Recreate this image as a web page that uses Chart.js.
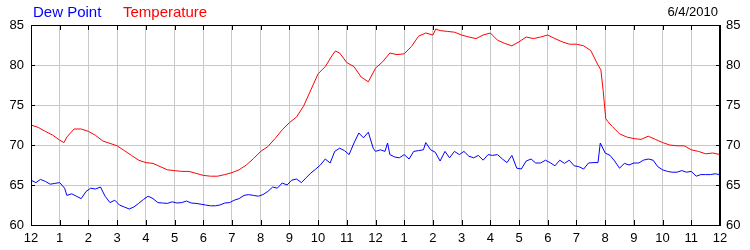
<!DOCTYPE html>
<html>
<head>
<meta charset="utf-8">
<script src="https://cdn.jsdelivr.net/npm/chart.js@4/dist/chart.umd.min.js"></script>
<style>
  html, body { margin: 0; padding: 0; background: #fff; }
  #wrap { position: relative; width: 750px; height: 250px; font-family: "Liberation Sans", Arial, sans-serif; }
  #c { position: absolute; left: 0; top: 0; }
  .lg { position: absolute; top: 2px; font-size: 15px; line-height: 20px; }
  #date { position: absolute; top: 4px; right: 32px; font-size: 13px; line-height: 16px; color: #000; }
</style>
</head>
<body>
<div id="wrap">
  <canvas id="c" width="750" height="250"></canvas>
  <span class="lg" style="left:33px;color:#0000ff">Dew Point</span>
  <span class="lg" style="left:123px;color:#ff0000">Temperature</span>
  <span id="date">6/4/2010</span>
</div>
<script>
// Hour-of-day tick labels (0..24)
const hourLabels = ['12','1','2','3','4','5','6','7','8','9','10','11','12','1','2','3','4','5','6','7','8','9','10','11','12'];

// Temperature (°F)
const tempHours = [0,0.25,0.5,0.75,1,1.15,1.25,1.5,1.75,2,2.25,2.5,2.75,3,3.25,3.5,3.75,4,4.25,4.5,4.75,5,5.25,5.5,5.75,6,6.25,6.5,6.75,7,7.25,7.5,7.75,8,8.25,8.5,8.75,9,9.25,9.5,9.75,10,10.25,10.5,10.6,10.75,11,11.25,11.5,11.75,12,12.25,12.5,12.75,13,13.25,13.5,13.75,14,14.1,14.25,14.5,14.75,15,15.25,15.5,15.75,16,16.25,16.5,16.75,17,17.25,17.5,17.75,18,18.25,18.5,18.75,19,19.25,19.5,19.75,19.85,19.93,20.02,20.1,20.25,20.5,20.75,21,21.25,21.5,21.75,22,22.25,22.5,22.75,23,23.25,23.5,23.75,24];
const tempValues = [72.5,72.2,71.7,71.25,70.6,70.3,71.0,72.0,72.0,71.7,71.2,70.5,70.2,69.9,69.3,68.7,68.1,67.8,67.7,67.3,66.9,66.8,66.7,66.7,66.45,66.2,66.1,66.1,66.3,66.55,66.9,67.5,68.3,69.2,69.8,70.8,71.9,72.8,73.5,74.9,76.9,78.9,79.8,81.25,81.75,81.5,80.3,79.8,78.5,77.9,79.6,80.4,81.5,81.3,81.4,82.3,83.6,84.0,83.75,84.5,84.3,84.2,84.1,83.75,83.5,83.3,83.75,84.0,83.1,82.7,82.4,82.9,83.5,83.3,83.5,83.75,83.3,82.9,82.6,82.6,82.4,81.8,80.0,79.4,76.8,73.3,72.9,72.3,71.4,71.0,70.8,70.7,71.1,70.7,70.3,70.0,69.9,69.9,69.4,69.2,68.9,69.0,68.8];

// Dew point (°F)
const dewHours = [0,0.17,0.33,0.5,0.67,0.83,1,1.17,1.25,1.42,1.58,1.75,1.92,2.08,2.25,2.42,2.58,2.75,2.92,3.08,3.25,3.42,3.58,3.75,3.92,4.08,4.25,4.42,4.58,4.75,4.92,5.08,5.25,5.42,5.58,5.75,5.92,6.08,6.25,6.42,6.58,6.75,6.92,7.08,7.25,7.42,7.58,7.75,7.92,8.08,8.25,8.42,8.58,8.75,8.92,9.08,9.25,9.42,9.58,9.75,9.92,10.08,10.25,10.42,10.58,10.75,10.92,11.08,11.25,11.42,11.58,11.75,11.92,12,12.17,12.33,12.42,12.5,12.67,12.83,13,13.17,13.33,13.5,13.67,13.75,13.92,14.08,14.25,14.42,14.58,14.75,14.92,15.08,15.25,15.42,15.58,15.75,15.92,16.08,16.25,16.42,16.58,16.75,16.92,17.08,17.25,17.42,17.58,17.75,17.92,18.08,18.25,18.42,18.58,18.75,18.92,19.08,19.25,19.42,19.58,19.75,19.83,20,20.17,20.33,20.5,20.67,20.83,21,21.17,21.33,21.5,21.67,21.83,22,22.17,22.33,22.5,22.67,22.83,23,23.17,23.33,23.5,23.67,23.83,24];
const dewValues = [65.6,65.3,65.7,65.45,65.1,65.2,65.3,64.6,63.7,63.9,63.6,63.3,64.2,64.6,64.5,64.75,63.6,62.8,63.1,62.5,62.25,62.0,62.25,62.7,63.2,63.6,63.3,62.8,62.75,62.7,62.9,62.75,62.8,63.0,62.75,62.7,62.6,62.5,62.4,62.4,62.5,62.75,62.8,63.1,63.3,63.7,63.8,63.7,63.6,63.8,64.2,64.75,64.6,65.25,65.0,65.6,65.75,65.3,65.9,66.5,67.0,67.5,68.25,67.75,69.2,69.6,69.3,68.8,70.25,71.5,70.9,71.6,69.6,69.2,69.4,69.2,70.25,68.8,68.5,68.4,68.8,68.25,69.2,69.3,69.4,70.3,69.4,69.1,68.0,69.2,68.4,69.2,68.8,69.2,68.6,68.4,68.7,68.1,68.8,68.7,68.8,68.25,67.8,68.7,67.1,67.0,68.0,68.25,67.75,67.75,68.1,67.8,67.4,68.1,67.7,68.1,67.4,67.3,67.0,67.75,67.8,67.8,70.25,69.0,68.7,68.0,67.1,67.7,67.5,67.75,67.75,68.1,68.25,68.1,67.3,66.9,66.7,66.6,66.6,66.8,66.6,66.7,66.1,66.3,66.3,66.3,66.4,66.3];

const yTicks = [60,65,70,75,80,85];

const toPts = (xs, ys) => xs.map((x, i) => ({ x: x, y: ys[i] }));

// Inner black tick marks on all four edges, placed via the scales
const innerTicks = {
  id: 'innerTicks',
  afterDraw(chart) {
    const { ctx, chartArea: a, scales: { x, y } } = chart;
    ctx.save();
    ctx.strokeStyle = '#000';
    ctx.lineWidth = 1;
    ctx.beginPath();
    for (let h = 1; h < hourLabels.length - 1; h++) {
      const px = Math.round(x.getPixelForValue(h)) + 0.5;
      ctx.moveTo(px, a.top); ctx.lineTo(px, a.top + 5);
      ctx.moveTo(px, a.bottom); ctx.lineTo(px, a.bottom - 5);
    }
    for (let i = 1; i < yTicks.length - 1; i++) {
      const py = Math.round(y.getPixelForValue(yTicks[i])) + 0.5;
      ctx.moveTo(a.left, py); ctx.lineTo(a.left + 4, py);
      ctx.moveTo(a.right, py); ctx.lineTo(a.right - 4, py);
    }
    ctx.stroke();
    ctx.strokeRect(Math.round(a.left) + 0.5, Math.round(a.top) + 0.5, Math.round(a.right - a.left) - 1, Math.round(a.bottom - a.top));
    ctx.restore();
  }
};

const tickFont = { family: '"Liberation Sans", Arial, sans-serif', size: 13 };

new Chart(document.getElementById('c'), {
  type: 'line',
  data: {
    datasets: [
      { label: 'Temperature', data: toPts(tempHours, tempValues), borderColor: '#ff0000', borderWidth: 1, pointRadius: 0, tension: 0, yAxisID: 'y' },
      { label: 'Dew Point', data: toPts(dewHours, dewValues), borderColor: '#0000ff', borderWidth: 1, pointRadius: 0, tension: 0, yAxisID: 'y' }
    ]
  },
  options: {
    responsive: false,
    animation: false,
    layout: { padding: { top: 25, left: 0, right: 0, bottom: 0 } },
    plugins: { legend: { display: false }, tooltip: { enabled: false } },
    scales: {
      x: {
        type: 'linear', min: 0, max: 24,
        afterFit(s) { s.height = 25; },
        afterBuildTicks(s) { s.ticks = hourLabels.map((_, i) => ({ value: i })); },
        ticks: { color: '#000', font: tickFont, padding: 6, maxRotation: 0, autoSkip: false,
                 callback: (v) => hourLabels[v] },
        grid: { color: '#c8c8c8', drawTicks: false, lineWidth: 1 },
        border: { color: '#000' }
      },
      y: {
        position: 'left', min: 60, max: 85,
        afterFit(s) { s.width = 31; },
        afterBuildTicks(s) { s.ticks = yTicks.map(v => ({ value: v })); },
        ticks: { color: '#000', font: tickFont, padding: 7 },
        grid: { color: '#c8c8c8', drawTicks: false },
        border: { color: '#000' }
      },
      y2: {
        position: 'right', min: 60, max: 85,
        afterFit(s) { s.width = 30; },
        afterBuildTicks(s) { s.ticks = yTicks.map(v => ({ value: v })); },
        ticks: { color: '#000', font: tickFont, padding: 6 },
        grid: { display: false, drawTicks: false },
        border: { color: '#000' }
      }
    }
  },
  plugins: [innerTicks]
});
</script>
</body>
</html>
